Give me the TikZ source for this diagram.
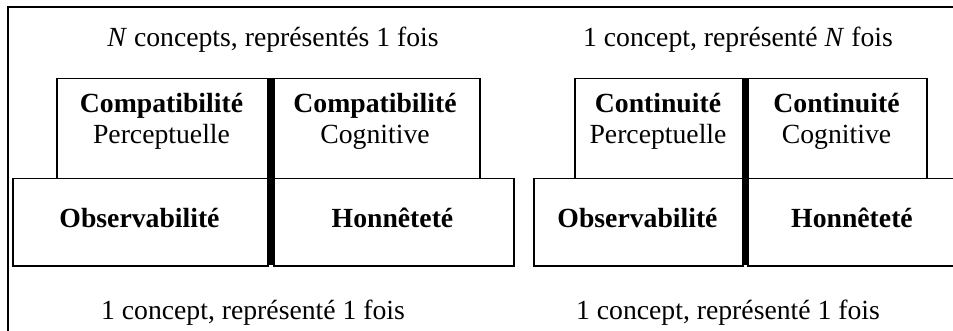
\documentclass[tikz,border=0pt]{standalone}
\usepackage{fontspec}
\setmainfont{Liberation Serif}
\begin{document}
\begin{tikzpicture}[x=1pt,y=-1pt,
  box/.style={draw, line width=1.5pt, inner sep=0pt, anchor=north west},
  bar/.style={line width=6pt},
  frame/.style={line width=1.8pt},
  lbl/.style={inner sep=0pt, anchor=base, font=\fontsize{27.7}{31}\selectfont},
  bl/.style={lbl, font=\fontsize{27.7}{31}\selectfont\bfseries}]
\useasboundingbox (0,0) rectangle (953,331);
\clip (0,0) rectangle (953,331);
% outer frame
\coordinate (f1) at (8,340);
\coordinate (f2) at (8,7);
\coordinate (f3) at (960,7);
\draw[frame] (f1) -- (f2) -- (f3);
% left group
\node[box, minimum width=211pt, minimum height=100pt] (ltl) at (56,78) {};
\node[box, minimum width=206pt, minimum height=100pt] (ltr) at (273,78) {};
\node[box, minimum width=255pt, minimum height=87pt] (lbl) at (12,178) {};
\node[box, minimum width=240pt, minimum height=87pt] (lbr) at (273,178) {};
\coordinate (lb1) at (270,78);
\coordinate (lb2) at (270,265);
\draw[bar] (lb1) -- (lb2);
% right group
\node[box, minimum width=168pt, minimum height=100pt] (rtl) at (574,78) {};
\node[box, minimum width=179pt, minimum height=100pt] (rtr) at (747,78) {};
\node[box, minimum width=209pt, minimum height=87pt] (rbl) at (533,178) {};
\node[box, minimum width=210pt, minimum height=87pt] (rbr) at (747,178) {};
\coordinate (rb1) at (744.5,78);
\coordinate (rb2) at (744.5,265);
\draw[bar] (rb1) -- (rb2);
% texts
\node[lbl] (t1) at (273,47) {\textit{N} concepts, représentés 1 fois};
\node[lbl] (t2) at (738,47) {1 concept, représenté \textit{N} fois};
\node[bl] (a1) at (161.5,113) {Compatibilité};
\node[lbl] (a2) at (161.5,144) {Perceptuelle};
\node[bl] (b1) at (375,113) {Compatibilité};
\node[lbl] (b2) at (375,144) {Cognitive};
\node[bl] (c1) at (139.5,228) {Observabilité};
\node[bl] (d1) at (392.5,228) {Honnêteté};
\node[bl] (e1) at (658,113) {Continuité};
\node[lbl] (e2) at (658,144) {Perceptuelle};
\node[bl] (g1) at (836.5,113) {Continuité};
\node[lbl] (g2) at (836.5,144) {Cognitive};
\node[bl] (h1) at (637.5,228) {Observabilité};
\node[bl] (k1) at (852,228) {Honnêteté};
\node[lbl] (t3) at (253,319) {1 concept, représenté 1 fois};
\node[lbl] (t4) at (728,319) {1 concept, représenté 1 fois};
\end{tikzpicture}
\end{document}
